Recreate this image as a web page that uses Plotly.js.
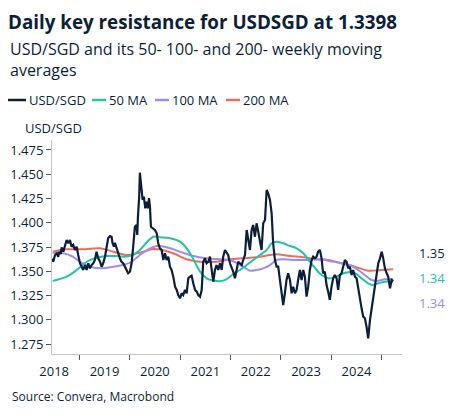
<!DOCTYPE html>
<html><head><meta charset="utf-8">
<script src="https://cdn.plot.ly/plotly-3.0.1.min.js"></script>
<style>html,body{margin:0;padding:0;background:#fff}</style>
</head><body>
<div id="chart" style="width:454px;height:417px"></div>
<script>
// Dates are decimal years
const usdDates = [2018.472,2018.484,2018.518,2018.552,2018.583,2018.603,2018.631,2018.651,2018.683,2018.716,2018.750,2018.782,2018.815,2018.849,2018.881,2018.915,2018.948,2018.980,
2019.014,2019.048,2019.079,2019.113,2019.147,2019.179,2019.212,2019.246,2019.278,2019.312,2019.345,2019.377,2019.411,2019.444,2019.476,2019.510,2019.544,2019.575,2019.609,2019.643,2019.663,2019.688,2019.708,2019.742,2019.774,2019.808,2019.841,2019.873,2019.907,2019.940,2019.972,
2020.006,2020.040,2020.060,2020.085,2020.105,2020.139,2020.151,2020.165,2020.190,2020.204,2020.230,2020.258,2020.284,2020.310,2020.337,2020.363,2020.383,2020.403,2020.423,2020.456,2020.502,2020.536,2020.567,2020.601,2020.635,2020.667,2020.700,2020.734,2020.766,2020.800,2020.833,2020.865,2020.899,2020.933,2020.964,2020.998,
2021.032,2021.063,2021.097,2021.131,2021.163,2021.196,2021.230,2021.262,2021.296,2021.329,2021.361,2021.395,2021.429,2021.460,2021.494,2021.528,2021.560,2021.593,2021.627,2021.659,2021.692,2021.726,2021.758,2021.792,2021.825,2021.857,2021.891,2021.925,2021.956,2021.990,
2022.024,2022.056,2022.089,2022.123,2022.155,2022.188,2022.222,2022.254,2022.288,2022.321,2022.353,2022.387,2022.421,2022.452,2022.486,2022.520,2022.552,2022.585,2022.619,2022.651,2022.685,2022.718,2022.750,2022.784,2022.817,2022.849,2022.883,2022.917,2022.948,2022.982,
2023.016,2023.048,2023.081,2023.115,2023.147,2023.181,2023.214,2023.246,2023.280,2023.313,2023.345,2023.379,2023.413,2023.444,2023.478,2023.512,2023.544,2023.577,2023.611,2023.643,2023.677,2023.710,2023.742,2023.776,2023.810,2023.841,2023.875,2023.909,2023.940,2023.974,
2024.008,2024.040,2024.073,2024.107,2024.139,2024.173,2024.206,2024.238,2024.272,2024.306,2024.337,2024.371,2024.405,2024.437,2024.470,2024.504,2024.536,2024.569,2024.603,2024.635,2024.669,2024.702,2024.734,2024.768,2024.802,2024.833,2024.867,2024.901,2024.933,2024.966,
2025.000,2025.032,2025.065,2025.099,2025.131,2025.165,2025.198,2025.230];
const usdValues = [1.3633,1.3598,1.3668,1.3685,1.3650,1.3702,1.3678,1.3747,1.3702,1.3771,1.3822,1.3788,1.3822,1.3753,1.3771,1.3719,1.3753,1.3668,
1.3582,1.3547,1.3513,1.3564,1.3513,1.3582,1.3530,1.3564,1.3582,1.3616,1.3702,1.3633,1.3598,1.3547,1.3582,1.3650,1.3753,1.3840,1.3863,1.3856,1.3788,1.3753,1.3794,1.3737,1.3685,1.3633,1.3598,1.3582,1.3547,1.3513,1.3479,
1.3495,1.3582,1.3685,1.3891,1.3959,1.3977,1.3874,1.4062,1.4269,1.4516,1.4372,1.4235,1.4269,1.4149,1.4217,1.4149,1.4255,1.4166,1.3959,1.3943,1.3925,1.3891,1.3788,1.3737,1.3719,1.3616,1.3685,1.3616,1.3650,1.3547,1.3513,1.3444,1.3341,1.3307,1.3255,1.3221,
1.3273,1.3255,1.3307,1.3273,1.3427,1.3444,1.3454,1.3376,1.3307,1.3290,1.3255,1.3238,1.3307,1.3598,1.3633,1.3582,1.3598,1.3650,1.3513,1.3392,1.3513,1.3564,1.3513,1.3582,1.3513,1.3650,1.3719,1.3685,1.3668,1.3582,
1.3547,1.3495,1.3427,1.3530,1.3598,1.3582,1.3564,1.3616,1.3668,1.3925,1.3822,1.3719,1.3925,1.3977,1.3856,1.3994,1.3908,1.3822,1.3719,1.3994,1.4028,1.4338,1.4304,1.4235,1.4097,1.3788,1.3616,1.3547,1.3547,1.3410,
1.3273,1.3152,1.3273,1.3410,1.3479,1.3410,1.3273,1.3341,1.3273,1.3307,1.3410,1.3513,1.3410,1.3513,1.3444,1.3238,1.3341,1.3513,1.3616,1.3650,1.3633,1.3650,1.3702,1.3719,1.3633,1.3479,1.3495,1.3358,1.3289,1.3204,
1.3341,1.3427,1.3461,1.3427,1.3307,1.3461,1.3479,1.3547,1.3616,1.3598,1.3530,1.3547,1.3461,1.3513,1.3444,1.3427,1.3307,1.3186,1.3118,1.3032,1.3015,1.2928,1.2809,1.2998,1.3118,1.3255,1.3358,1.3513,1.3582,1.3633,
1.3702,1.3633,1.3530,1.3479,1.3444,1.3324,1.3410,1.3398];

const ma50Dates = [2018.472,2018.750,2018.948,2019.147,2019.345,2019.544,2019.742,2019.907,2020.071,2020.204,2020.337,2020.468,2020.601,2020.800,2020.998,2021.131,2021.262,2021.395,2021.528,2021.659,2021.792,2021.925,2022.056,2022.188,2022.321,2022.452,2022.585,2022.718,2022.817,2022.917,2023.048,2023.181,2023.313,2023.444,2023.577,2023.710,2023.810,2023.940,2024.073,2024.206,2024.337,2024.470,2024.603,2024.734,2024.833,2024.933,2025.065,2025.230];
const ma50Values = [1.3400,1.3444,1.3513,1.3598,1.3640,1.3657,1.3657,1.3650,1.3668,1.3719,1.3796,1.3856,1.3850,1.3840,1.3805,1.3737,1.3626,1.3497,1.3427,1.3405,1.3397,1.3420,1.3472,1.3513,1.3564,1.3616,1.3668,1.3719,1.3788,1.3805,1.3788,1.3760,1.3737,1.3685,1.3598,1.3513,1.3461,1.3427,1.3437,1.3472,1.3489,1.3479,1.3427,1.3376,1.3358,1.3376,1.3392,1.3392];

const ma100Dates = [2018.472,2018.683,2018.849,2019.014,2019.212,2019.476,2019.675,2019.873,2020.040,2020.204,2020.369,2020.536,2020.734,2020.998,2021.262,2021.528,2021.792,2021.990,2022.254,2022.387,2022.520,2022.651,2022.784,2022.917,2023.048,2023.313,2023.577,2023.841,2023.940,2024.206,2024.405,2024.536,2024.669,2024.802,2024.933,2025.065,2025.230];
const ma100Values = [1.3691,1.3685,1.3657,1.3598,1.3547,1.3530,1.3547,1.3564,1.3598,1.3668,1.3726,1.3760,1.3747,1.3702,1.3657,1.3634,1.3623,1.3616,1.3547,1.3506,1.3513,1.3530,1.3564,1.3616,1.3623,1.3616,1.3616,1.3623,1.3609,1.3582,1.3554,1.3513,1.3461,1.3410,1.3403,1.3417,1.3417];

const ma200Dates = [2018.472,2018.750,2019.079,2019.411,2019.675,2019.940,2020.204,2020.468,2020.601,2020.865,2021.131,2021.395,2021.726,2021.990,2022.254,2022.520,2022.784,2022.917,2023.181,2023.444,2023.710,2023.940,2024.206,2024.470,2024.734,2025.000,2025.230];
const ma200Values = [1.3702,1.3726,1.3726,1.3737,1.3702,1.3668,1.3691,1.3729,1.3724,1.3685,1.3623,1.3598,1.3598,1.3623,1.3634,1.3644,1.3668,1.3675,1.3657,1.3644,1.3623,1.3616,1.3582,1.3547,1.3506,1.3513,1.3520];

const seriesNames = ["USD/SGD","50 MA","100 MA","200 MA"];
const seriesColors = ["#0b1f3a","#22c4a4","#9b8cf2","#ea6e5e"];
const endLabels = ["1.35","1.34","1.34"];

function toDate(d){
  const y = Math.floor(d);
  const s = Date.UTC(y,0,1), e = Date.UTC(y+1,0,1);
  return new Date(s + (d - y) * (e - s)).toISOString().slice(0,10);
}

const FONT = "Open Sans, Noto Sans, sans-serif";
const TXT = "#0b1f3a";
// pixel helpers for the layout decorations (plot area 52..402 x 140..354)
const px = v => (v - 52) / 350;
const py = v => (354 - v) / 214;

const dateSets = [usdDates, ma50Dates, ma100Dates, ma200Dates];
const valSets = [usdValues, ma50Values, ma100Values, ma200Values];
const traces = [3,2,1,0].map(i => ({
  type: "scatter", mode: "lines",
  name: seriesNames[i],
  x: dateSets[i].map(toDate), y: valSets[i],
  line: {color: seriesColors[i], width: i === 0 ? 2.2 : 2, shape: i === 0 ? "linear" : "spline"},
  hoverinfo: "skip", showlegend: false
}));

// compact legend (short line swatch + label), like the reference
const legLineX = [[8, 26], [92, 106], [155, 169], [226, 240]];
const legY = 100;
const shapes = legLineX.map((lx, i) => ({
  type: "line", xref: "paper", yref: "paper",
  x0: px(lx[0]), x1: px(lx[1]), y0: py(legY), y1: py(legY),
  line: {color: seriesColors[i], width: 2.5}
}));
const legendText = legLineX.map((lx, i) => ({
  text: seriesNames[i], xref: "paper", yref: "paper",
  x: px(lx[1] + 1), xanchor: "left", y: py(legY), yanchor: "middle",
  showarrow: false, xshift: 0, font: {family: FONT, size: 13, color: TXT}
}));

const layout = {
  width: 454, height: 417,
  margin: {l: 52, r: 52, t: 140, b: 63},
  paper_bgcolor: "#ffffff", plot_bgcolor: "#ffffff",
  font: {family: FONT, color: TXT, size: 13},
  showlegend: false,
  title: {
    text: "<b>Daily key resistance for USDSGD at 1.3398</b>",
    font: {family: FONT, size: 18.8, color: TXT},
    xref: "container", x: 8/454, xanchor: "left",
    yref: "container", y: 1 - 22/417, yanchor: "middle"
  },
  xaxis: {
    type: "date",
    range: [toDate(2018.458), toDate(2025.403)],
    tick0: "2018-01-01", dtick: "M12", tickformat: "%Y",
    ticklabelmode: "period",
    ticks: "outside", ticklen: 5, tickcolor: "#555555", tickwidth: 1,
    showline: true, linecolor: "#c4c4c4", linewidth: 1,
    showgrid: false, zeroline: false,
    tickfont: {family: FONT, size: 13, color: TXT}
  },
  yaxis: {
    range: [1.2647, 1.4853],
    tick0: 1.275, dtick: 0.025, tickformat: ".3f",
    ticks: "outside", ticklen: 5, tickcolor: "#555555", tickwidth: 1,
    showline: true, linecolor: "#c4c4c4", linewidth: 1,
    showgrid: false, zeroline: false,
    tickfont: {family: FONT, size: 13, color: TXT}
  },
  shapes: shapes,
  annotations: [
    {text: "USD/SGD and its 50- 100- and 200- weekly moving<br>averages", xref: "paper", yref: "paper",
     x: px(8), xanchor: "left", y: py(36), yanchor: "top", align: "left", showarrow: false,
     font: {family: FONT, size: 16, color: TXT}},
    {text: "USD/SGD", xref: "paper", yref: "paper", x: px(23), xanchor: "left",
     y: py(128), yanchor: "middle", showarrow: false, font: {family: FONT, size: 13, color: TXT}},
    {text: "Source: Convera, Macrobond", xref: "paper", yref: "paper", x: px(10), xanchor: "left",
     y: py(396), yanchor: "middle", showarrow: false, font: {family: FONT, size: 12, color: TXT}},
    {text: endLabels[0], xref: "paper", yref: "paper", x: px(417), xanchor: "left",
     y: py(253), yanchor: "middle", showarrow: false, font: {family: FONT, size: 13, color: seriesColors[0]}},
    {text: endLabels[1], xref: "paper", yref: "paper", x: px(417), xanchor: "left",
     y: py(278), yanchor: "middle", showarrow: false, font: {family: FONT, size: 13, color: seriesColors[1]}},
    {text: endLabels[2], xref: "paper", yref: "paper", x: px(417), xanchor: "left",
     y: py(303), yanchor: "middle", showarrow: false, font: {family: FONT, size: 13, color: seriesColors[2]}}
  ].concat(legendText)
};

Plotly.newPlot("chart", traces, layout, {displayModeBar: false, staticPlot: true});
</script>
</body></html>
